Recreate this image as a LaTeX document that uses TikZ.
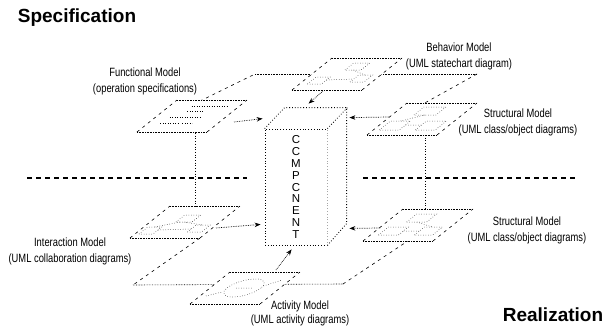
\documentclass[tikz,border=0pt]{standalone}
\usepackage{fontspec}
\setmainfont{Liberation Sans}
\newfontfamily\narrowfont[FakeStretch=0.78]{Liberation Sans}
\usetikzlibrary{arrows.meta,calc}

\begin{document}
\begin{tikzpicture}[x=1pt,y=-1pt,
  hedge/.style={densely dotted,line width=0.6pt},
  sedge/.style={dash pattern=on 3pt off 4pt,line width=0.6pt},
  sketch/.style={dotted,line width=0.5pt},
  link/.style={dotted,line width=0.7pt},
  conn/.style={densely dotted,line width=0.7pt,-{Stealth[length=6pt,width=4.5pt]}},
  divider/.style={line width=1.3pt,dash pattern=on 5pt off 4pt},
  boxedge/.style={dotted,line width=0.8pt},
  lbl/.style={align=center,inner sep=0pt,font=\narrowfont\fontsize{12}{16}\selectfont},
  title/.style={inner sep=0pt,font=\bfseries\fontsize{19}{21}\selectfont}]
\useasboundingbox (0,0) rectangle (606,327);

% big planes
\coordinate (specL) at (255,74);
\coordinate (specR) at (477,74);
\coordinate (realL) at (133,285);
\coordinate (realR) at (343,284);
\draw[sedge] (137,132) -- (specL);
\draw[hedge] (specL) -- (specR);
\draw[sedge] (specR) -- (367,135);
\draw[sedge] (200,238) -- (realL);
\draw[hedge] (realL) -- (realR);
\draw[sedge] (realR) -- (450,213);

% model planes
\foreach \n/\px/\py in {func/137/132,behav/292/90,strU/367/135,inter/130/238,activ/190/304,strL/363/241}{
  \begin{scope}[shift={(\px,\py)},xslant=1.25]
    \fill[white] (0,0) rectangle (70,-32);
    \draw[hedge] (0,0) -- (70,0) (0,-32) -- (70,-32);
    \draw[sedge] (0,0) -- (0,-32) (70,0) -- (70,-32);
    \coordinate (\n) at (0,0);
  \end{scope}
}

% little diagrams on the planes
\begin{scope}[shift={(func)},xslant=1.25]
  \draw[sketch] (22,-26) -- (58,-26) (24,-21) -- (40,-21) (14,-15) -- (46,-15) (12,-9) -- (30,-9) (34,-9) -- (44,-9);
\end{scope}
\begin{scope}[shift={(behav)},xslant=1.25]
  \draw[sketch] (8,-6) rectangle (22,-13) (28,-20) rectangle (44,-27) (48,-8) rectangle (62,-15);
  \draw[sketch] (22,-10) -- (48,-11) (36,-20) -- (54,-15);
\end{scope}
\begin{scope}[shift={(strU)},xslant=1.25]
  \draw[sketch] (6,-5) rectangle (26,-14) (42,-5) rectangle (62,-14) (22,-20) rectangle (44,-28);
  \draw[sketch] (26,-10) -- (42,-10) (33,-20) -- (16,-14);
\end{scope}
\begin{scope}[shift={(inter)},xslant=1.25]
  \draw[sketch] (4,-4) rectangle (18,-11) (26,-16) rectangle (42,-23) (50,-6) rectangle (64,-13);
  \draw[sketch] (18,-8) -- (50,-9) (34,-16) -- (56,-13) (11,-11) -- (30,-16);
\end{scope}
\begin{scope}[shift={(activ)},xslant=1.25]
  \draw[sketch] (34,-16) ellipse [x radius=17, y radius=9];
  \draw[sketch] (6,-8) -- (17,-12) (51,-18) -- (62,-24) (26,-16) -- (42,-16);
\end{scope}
\begin{scope}[shift={(strL)},xslant=1.25]
  \draw[sketch] (8,-6) rectangle (28,-14) (44,-6) rectangle (62,-14) (20,-19) rectangle (40,-27);
  \draw[sketch] (28,-10) -- (44,-10) (30,-19) -- (52,-14);
\end{scope}

% vertical links and the divider
\draw[link] ($(func)+(58,1)$) -- ($(inter)+(65,-32)$);
\draw[link] ($(strU)+(58,0)$) -- ($(strL)+(62,-33)$);
\draw[divider] (27,178) -- (247,178);
\draw[divider] (363,178) -- (578,178);

% the component
\node[draw,boxedge,fill=white,minimum width=62pt,minimum height=116pt,inner sep=0pt,align=center,
  font=\fontsize{11.5}{11.9}\selectfont] (comp) at (296,187) {C\\C\\M\\P\\C\\N\\E\\N\\T};
\fill[white] (comp.north west) -- ++(20,-21) -- ++(62,0) -- ++(0,116) -- (comp.south east) -- (comp.north east) -- cycle;
\draw[boxedge] (comp.north west) -- ++(20,-21) -- ++(62,0) -- ++(0,116) -- (comp.south east);
\draw[boxedge] (comp.north east) -- ++(20,-21);

% arrows into the component
\draw[conn] ($(func)+(97,-10)$) -- ($(comp.north west)+(-2,-10)$);
\draw[conn] ($(behav)+(31,1)$) -- ($(comp.north west)+(44,-25)$);
\draw[conn] ($(strU)+(22,-18)$) -- ($(comp.north east)+(22,-11)$);
\draw[conn] ($(strL)+(17,-13)$) -- ($(comp.south east)+(22,-17)$);
\draw[conn] ($(inter)+(86,-10)$) -- ($(comp.south west)+(-4,-21)$);
\draw[conn] ($(activ)+(86,-34)$) -- ($(comp.south west)+(27,4)$);

% labels
\node[lbl] (funclbl) at (145,81) {Functional Model\\(operation specifications)};
\node[lbl] (behavlbl) at (459,56) {Behavior Model\\(UML statechart diagram)};
\node[lbl] (strUlbl) at (518,122) {Structural Model\\(UML class/object diagrams)};
\node[lbl] (interlbl) at (70,251) {Interaction Model\\(UML collaboration diagrams)};
\node[lbl,font=\narrowfont\fontsize{12}{14}\selectfont] (activlbl) at (300,313) {Activity Model\\(UML activity diagrams)};
\node[lbl] (strLlbl) at (527,230) {Structural Model\\(UML class/object diagrams)};
\node[title] (spec) at (77,18) {Specification};
\node[title] (real) at (553,315) {Realization};
\end{tikzpicture}
\end{document}
